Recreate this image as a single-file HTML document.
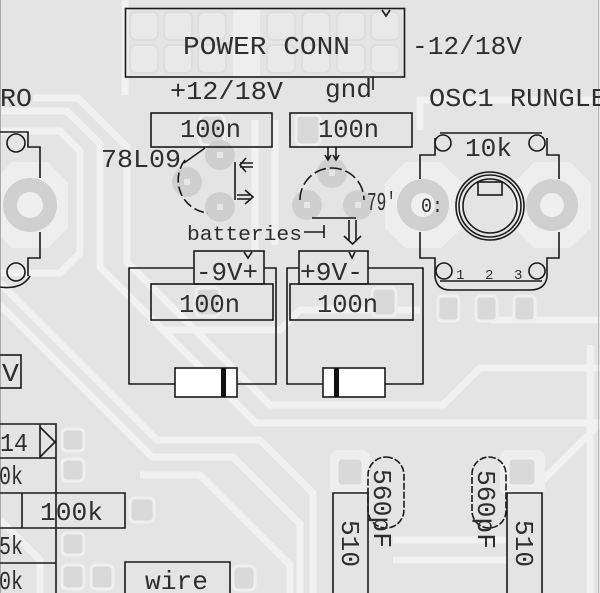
<!DOCTYPE html>
<html><head><meta charset="utf-8"><style>
html,body{margin:0;padding:0;background:#e4e4e4;}
svg{display:block}
text{font-family:"Liberation Mono","DejaVu Sans Mono",monospace;fill:#2e2e2e;}
</style></head><body>
<svg width="600" height="593" viewBox="0 0 600 593" xmlns="http://www.w3.org/2000/svg">
<rect width="600" height="593" fill="#e4e4e4"/>
<!-- light traces -->
<g fill="none" stroke="#f1f1f1" stroke-width="7" stroke-linejoin="miter">
<path d="M33,98 L78,98 L127,147 L127,262 L270,405 L443,405 L480,368 L600,368"/>
<path d="M0,111 L67,111 L100,144 L100,267 L256,423 L600,423"/>
<path d="M0,131 L60,131 L80,151 L80,253 L60,273 L0,273"/>
<path d="M0,283 L157,440 L260,440 L313,493 L313,593"/>
<path d="M0,305 L152,457 L233,457 L300,524 L300,593"/>
<path d="M140,475 L200,475 L290,565 L290,593"/>
<path d="M393,540 L507,540 M393,560 L507,560"/>
<path d="M533,490 L600,423"/>
<path d="M493,296 L493,320 L600,320"/>
<path d="M590,345 L590,593"/>
<path d="M0,520 L40,560 L40,593"/>
<path d="M125,0 L125,95"/>
<path d="M255,120 L255,250"/>
<path d="M275,120 L275,245"/>
<path d="M160,330 L280,330 L300,310 L420,310"/>
<path d="M420,130 L420,100 L600,100"/>
</g>
<rect x="233" y="10" width="27" height="67" fill="#eeeeee"/>
<!-- halos around pot pads -->
<g fill="#eeeeee">
<polygon points="405,162 441,162 462,183 462,228 441,248 405,248 385,228 385,183"/>
<polygon points="534,162 570,162 591,183 591,228 570,248 534,248 514,228 514,183"/>
<polygon points="12,162 48,162 68,183 68,228 48,248 12,248 -8,228 -8,183"/>
<rect x="330" y="450" width="40" height="45" rx="8"/>
<rect x="500" y="450" width="45" height="45" rx="8"/>
</g>
<!-- header pads -->
<g fill="#e9e9e9" stroke="#dedede" stroke-width="2">
<rect x="130" y="12" width="28" height="28" rx="6"/><rect x="130" y="45" width="28" height="28" rx="6"/>
<rect x="164" y="12" width="28" height="28" rx="6"/><rect x="164" y="45" width="28" height="28" rx="6"/>
<rect x="198" y="12" width="28" height="28" rx="6"/><rect x="198" y="45" width="28" height="28" rx="6"/>
<rect x="267" y="12" width="28" height="28" rx="6"/><rect x="267" y="45" width="28" height="28" rx="6"/>
<rect x="302" y="12" width="28" height="28" rx="6"/><rect x="302" y="45" width="28" height="28" rx="6"/>
<rect x="337" y="12" width="28" height="28" rx="6"/><rect x="337" y="45" width="28" height="28" rx="6"/>
<rect x="371" y="12" width="28" height="28" rx="6"/><rect x="371" y="45" width="28" height="28" rx="6"/>
</g>
<!-- square pads -->
<g fill="#d9d9d9" stroke="#efefef" stroke-width="3">
<rect x="62" y="429" width="22" height="22" rx="5"/>
<rect x="62" y="459" width="22" height="22" rx="5"/>
<rect x="130" y="498" width="24" height="24" rx="5"/>
<rect x="62" y="533" width="22" height="22" rx="5"/>
<rect x="62" y="565" width="22" height="24" rx="5"/>
<rect x="91" y="565" width="22" height="24" rx="5"/>
<rect x="233" y="566" width="22" height="24" rx="5"/>
<rect x="337" y="458" width="26" height="28" rx="5"/>
<rect x="508" y="458" width="28" height="28" rx="5"/>
<rect x="438" y="296" width="21" height="25" rx="4"/>
<rect x="476" y="296" width="21" height="25" rx="4"/>
<rect x="514" y="296" width="21" height="25" rx="4"/>
<rect x="200" y="115" width="24" height="30" rx="5"/>
<rect x="296" y="115" width="24" height="30" rx="5"/>
<rect x="196" y="288" width="24" height="28" rx="5"/>
<rect x="372" y="288" width="24" height="28" rx="5"/>
</g>
<!-- ring pads -->
<g fill="#d0d0d0">
<circle cx="30" cy="205" r="27"/><circle cx="423" cy="205" r="26"/><circle cx="552" cy="205" r="26"/>
</g>
<g fill="#efefef">
<circle cx="30" cy="205" r="13"/><circle cx="423" cy="205" r="12"/><circle cx="552" cy="205" r="12"/>
</g>
<!-- regulator pads -->
<g fill="#cfcfcf">
<circle cx="220" cy="155" r="15"/><circle cx="187" cy="182" r="15"/><circle cx="220" cy="207" r="15"/>
<circle cx="332" cy="173" r="15"/><circle cx="307" cy="205" r="15"/><circle cx="358" cy="205" r="15"/>
</g>
<g fill="#e6e6e6">
<rect x="217" y="152" width="6" height="6"/><rect x="184" y="179" width="6" height="6"/><rect x="217" y="204" width="6" height="6"/>
<rect x="329" y="170" width="6" height="6"/><rect x="304" y="202" width="6" height="6"/><rect x="355" y="202" width="6" height="6"/>
</g>
<!-- board edges -->
<line x1="0.5" y1="0" x2="0.5" y2="593" stroke="#a8a8a8" stroke-width="1"/>
<line x1="598.5" y1="0" x2="598.5" y2="593" stroke="#b8b8b8" stroke-width="1"/>

<!-- silkscreen -->
<g fill="none" stroke="#1a1a1a" stroke-width="1.6">
<rect x="125.5" y="8.5" width="279" height="68.5"/>
<path d="M373,77 L373,90"/>
<rect x="151" y="113" width="121" height="34"/>
<rect x="290" y="113" width="122" height="34"/>
<rect x="194" y="251" width="70" height="33"/>
<rect x="299" y="251" width="69" height="33"/>
<rect x="151" y="284" width="122" height="36"/>
<rect x="290" y="284" width="123" height="36"/>
<path d="M194,268 L129,268 L129,384 L175,384 M237,384 L276,384 L276,268 L264,268"/>
<path d="M299,268 L287,268 L287,384 L323,384 M385,384 L423,384 L423,268 L368,268"/>
<!-- left pot -->
<path d="M-1,132 L28,132 L28,147 L40,147 L40,178 M40,232 L40,258 L28,258 L28,276"/>
<circle cx="16" cy="143" r="9"/><circle cx="16" cy="272" r="9"/>
<path d="M-1,287 Q22,290 30,276"/>
<!-- right pot -->
<path d="M440,133 L542,133"/>
<path d="M435,138 L435,155 L420,155 L420,179 M420,232 L420,258 L435,258 L435,277"/>
<path d="M547,138 L547,155 L559,155 L559,179 M559,232 L559,258 L547,258 L547,277"/>
<circle cx="443" cy="143" r="8"/><circle cx="537" cy="143" r="8"/>
<circle cx="444" cy="271" r="8"/><circle cx="537" cy="271" r="8"/>
<path d="M440,281 L542,281"/>
<path d="M435,277 Q437,290 450,290 L530,290 Q545,290 547,277"/>
<circle cx="490" cy="206" r="34"/><circle cx="490" cy="206" r="31"/><circle cx="490" cy="206" r="27"/>
<rect x="478" y="182" width="24" height="13"/>
<!-- 78L09 -->
<path d="M185,160 A33,33 0 0 0 208,213" stroke-dasharray="10 4"/>
<path d="M184,163 L205,148"/>
<path d="M235,162 L235,200"/>
<path d="M240,163 L253,163 M240,167 L253,167 M246,158 L240,165 L246,172"/>
<path d="M237,195 L250,195 M237,199 L250,199 M245,190 L253,197 L245,204"/>
<!-- 79L09 -->
<path d="M300,200 A32,32 0 0 1 364,200" stroke-dasharray="12 4"/>
<path d="M328,147 L328,160 M336,147 L336,160 M325,155 L328,160 L331,155 M333,155 L336,160 L339,155"/>
<path d="M312,218 L356,218"/>
<path d="M304,232 L324,232 M324,225 L324,238"/>
<path d="M349,220 L349,240 M356,220 L356,240 M344,236 L352.5,244 L361,236"/>
<!-- battery marks -->
<path d="M244,252 L248,258 L252,252 M349,252 L352,258 L355,252"/>
<path d="M382,10 L386,16 L390,10"/>
<!-- bottom left boxes -->
<rect x="-1" y="355" width="22" height="33"/>
<path d="M-1,424 L56,424 L56,593 M-1,458 L56,458 M40,424 L40,458 M40,427 L55,442 L40,457"/>
<path d="M-1,493 L125,493 L125,528 L-1,528 M22,493 L22,528"/>
<path d="M-1,563 L56,563"/>
<path d="M125,600 L125,562 L230,562 L230,600"/>
<!-- bottom right -->
<path d="M333,600 L333,493 L368,493 L368,600"/>
<path d="M507,600 L507,493 L542,493 L542,600"/>
<rect x="368" y="457" width="36" height="71" rx="18" stroke-dasharray="7 2"/>
<rect x="472" y="457" width="34" height="71" rx="17" stroke-dasharray="7 2"/>
</g>
<!-- diodes -->
<rect x="175" y="368" width="62" height="29" fill="#fff" stroke="#1a1a1a" stroke-width="1.6"/>
<rect x="221" y="368" width="5" height="29" fill="#111"/>
<rect x="323" y="368" width="62" height="29" fill="#fff" stroke="#1a1a1a" stroke-width="1.6"/>
<rect x="334" y="368" width="5" height="29" fill="#111"/>

<!-- text -->
<g font-size="26">
<text x="183" y="54" textLength="167" lengthAdjust="spacingAndGlyphs">POWER CONN</text>
<text x="412" y="54" textLength="110" lengthAdjust="spacingAndGlyphs">-12/18V</text>
<text x="170" y="99" textLength="113" lengthAdjust="spacingAndGlyphs">+12/18V</text>
<text x="325" y="97" textLength="47" lengthAdjust="spacingAndGlyphs">gnd</text>
<text x="429" y="106" textLength="178" lengthAdjust="spacingAndGlyphs">OSC1 RUNGLE</text>
<text x="180" y="137" textLength="61" lengthAdjust="spacingAndGlyphs">100n</text>
<text x="318" y="137" textLength="61" lengthAdjust="spacingAndGlyphs">100n</text>
<text x="465" y="156" textLength="47" lengthAdjust="spacingAndGlyphs">10k</text>
<text x="101" y="167" textLength="80" lengthAdjust="spacingAndGlyphs">78L09</text>
<text x="367" y="210" textLength="29" lengthAdjust="spacingAndGlyphs">79'</text>
<text x="196" y="280" textLength="62" lengthAdjust="spacingAndGlyphs">-9V+</text>
<text x="300" y="280" textLength="63" lengthAdjust="spacingAndGlyphs">+9V-</text>
<text x="179" y="312" textLength="61" lengthAdjust="spacingAndGlyphs">100n</text>
<text x="317" y="312" textLength="61" lengthAdjust="spacingAndGlyphs">100n</text>
<text x="0" y="106" textLength="32" lengthAdjust="spacingAndGlyphs">RO</text>
<text x="2" y="381" textLength="17" lengthAdjust="spacingAndGlyphs">V</text>
<text x="0" y="451" textLength="28" lengthAdjust="spacingAndGlyphs">14</text>
<text x="-1" y="484" textLength="24" lengthAdjust="spacingAndGlyphs">0k</text>
<text x="40" y="520" textLength="63" lengthAdjust="spacingAndGlyphs">100k</text>
<text x="-1" y="554" textLength="24" lengthAdjust="spacingAndGlyphs">5k</text>
<text x="-1" y="589" textLength="24" lengthAdjust="spacingAndGlyphs">0k</text>
<text x="145" y="589" textLength="63" lengthAdjust="spacingAndGlyphs">wire</text>
<text transform="translate(342,520) rotate(90)" textLength="47" lengthAdjust="spacingAndGlyphs">510</text>
<text transform="translate(516,520) rotate(90)" textLength="47" lengthAdjust="spacingAndGlyphs">510</text>
<text transform="translate(374,469) rotate(90)" textLength="79" lengthAdjust="spacingAndGlyphs">560pF</text>
<text transform="translate(478,470) rotate(90)" textLength="79" lengthAdjust="spacingAndGlyphs">560pF</text>
</g>
<text x="187" y="240" font-size="20" textLength="115" lengthAdjust="spacingAndGlyphs">batteries</text>
<text x="421" y="212" font-size="20" textLength="22" lengthAdjust="spacingAndGlyphs">0:</text>
<g font-size="14">
<text x="456" y="279">1</text><text x="485" y="279">2</text><text x="514" y="279">3</text>
</g>
</svg>
</body></html>
